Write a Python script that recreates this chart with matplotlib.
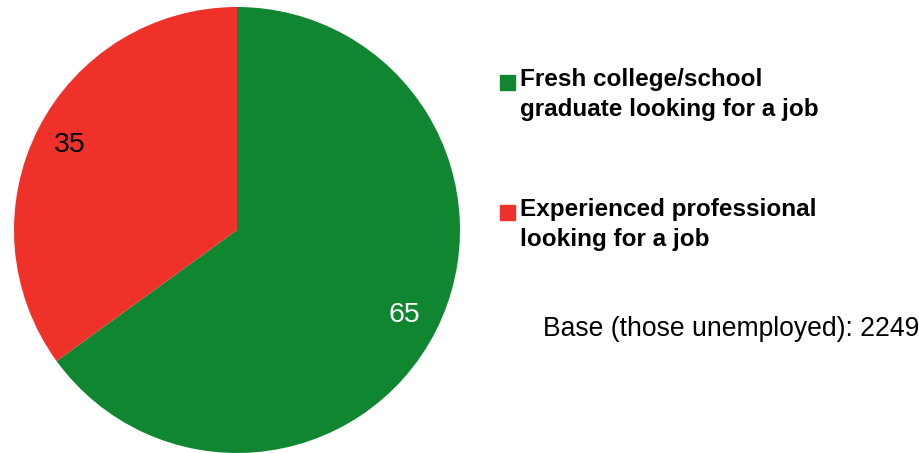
import matplotlib.pyplot as plt
from matplotlib.patches import Rectangle

plt.rcParams['font.family'] = ['Liberation Sans', 'DejaVu Sans']

# Share of unemployed respondents by job-seeker type
categories = ['Fresh college/school\ngraduate looking for a job',
              'Experienced professional\nlooking for a job']
values = [65, 35]
colors = ['#108630', '#EE3129']
label_colors = ['white', 'black']
base_note = 'Base (those unemployed): 2249'

fig = plt.figure(figsize=(9.2, 4.53), dpi=100)

# Pie axes: 446 px square, centred at (237, 230) px from top-left
ax = fig.add_axes([14 / 920, 0 / 453, 446 / 920, 446 / 453])
wedges, texts = ax.pie(values, colors=colors, startangle=90, counterclock=False,
                       radius=1, labels=[str(v) for v in values],
                       labeldistance=0.84,
                       textprops={'fontsize': 20.5})
for t, c in zip(texts, label_colors):
    t.set_color(c)
    t.set_horizontalalignment('center')
    t.set_verticalalignment('center')
ax.set_xlim(-1, 1)
ax.set_ylim(-1, 1)
ax.set_aspect('equal')
ax.axis('off')

# Legend drawn by hand so the swatch lines up with the first text line
W, H = 920, 453
top_y = [68, 198]
for y, label, color in zip(top_y, categories, colors):
    fig.patches.append(Rectangle((500 / W, 1 - (y + 22) / H), 15 / W, 15 / H,
                                 transform=fig.transFigure, color=color))
    fig.text(520 / W, 1 - y / H, label, fontsize=17.5, fontweight='bold',
             va='top', ha='left', linespacing=1.38)

fig.text(543 / W, 1 - 329 / H, base_note, fontsize=19.1, va='center', ha='left')

fig.savefig('out.png', dpi=100)
